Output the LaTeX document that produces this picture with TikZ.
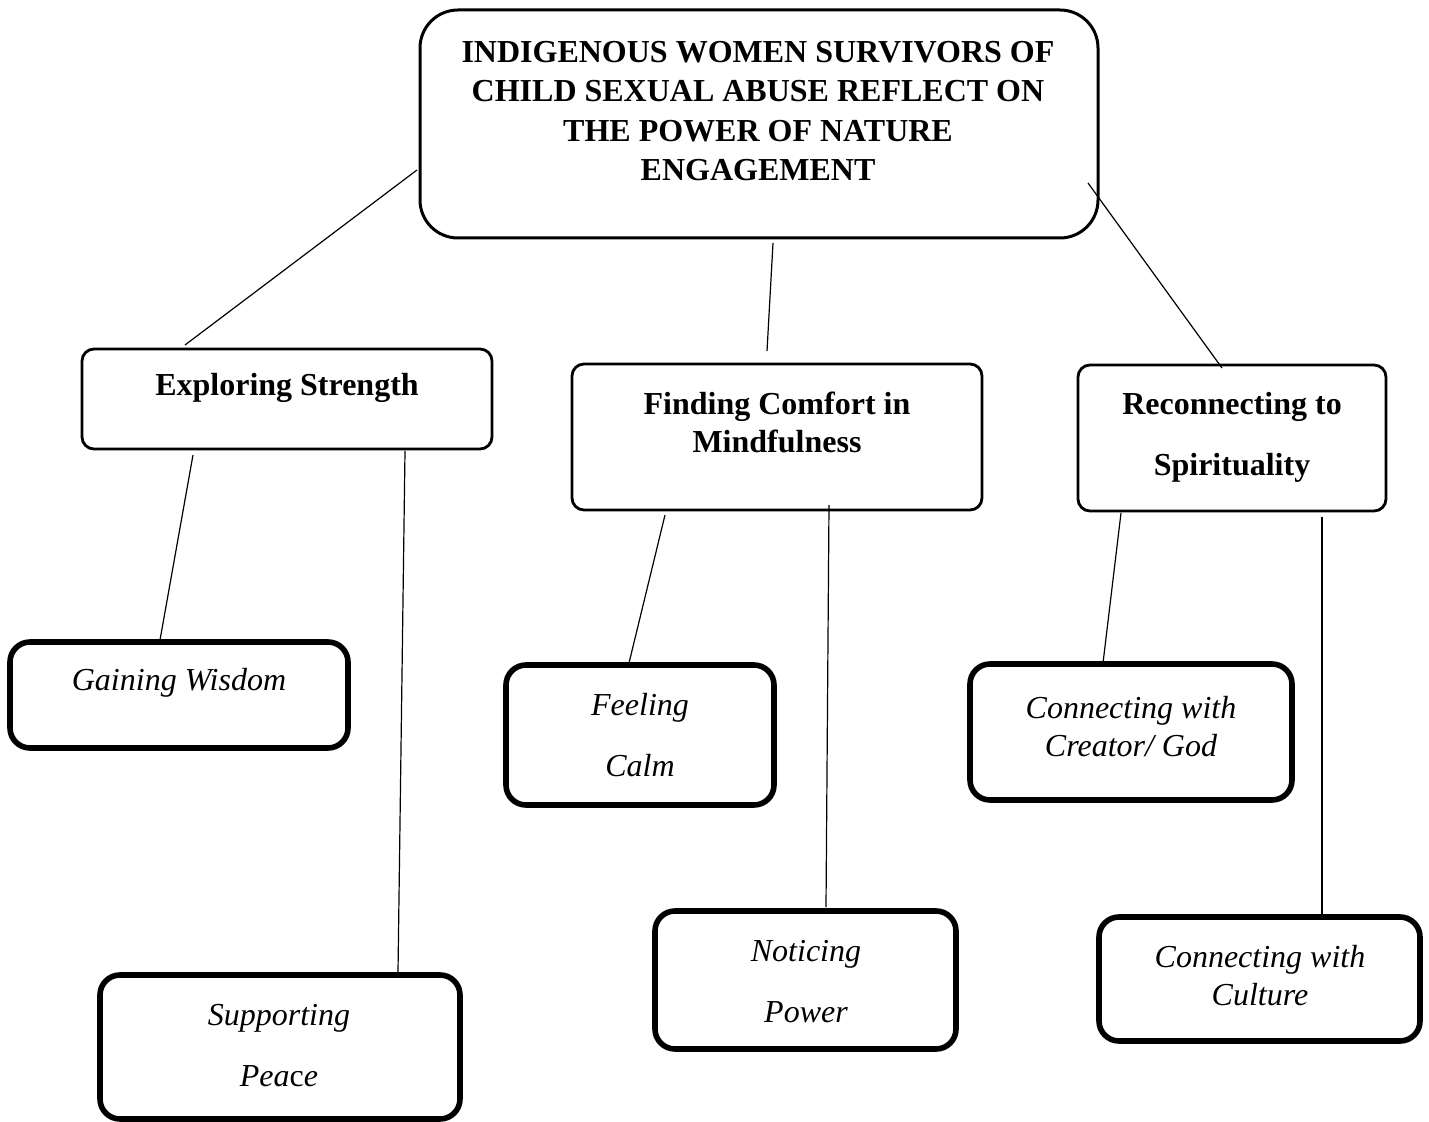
\documentclass[tikz,border=0pt]{standalone}
\usepackage{fontspec}
\setmainfont{Liberation Serif}
\usetikzlibrary{positioning}

\tikzset{
  thinbox/.style={draw=black, line width=1.4pt, rounded corners=6pt, inner sep=0pt},
  thickbox/.style={draw=black, line width=2.8pt, rounded corners=10pt, inner sep=0pt},
  headtext/.style={font=\fontsize{16}{19}\selectfont\bfseries, align=center, inner sep=0pt},
  themetext/.style={font=\fontsize{16}{19}\selectfont\itshape, align=center, inner sep=0pt},
  link/.style={draw=black, line width=0.6pt}
}

\begin{document}
\begin{tikzpicture}[x=0.5pt, y=-0.5pt]
            \useasboundingbox (0,0) rectangle (1429,1122);
            \fill[white] (0,0) rectangle (1429,1122);

            % main theme
            \node[draw=black, line width=1.5pt, rounded corners=19pt, minimum width=339pt, minimum height=114pt] (main) at (759,124) {};
            \node[headtext, font=\fontsize{16}{19.7}\selectfont\bfseries] (maintext) at (758,111)
              {INDIGENOUS WOMEN SURVIVORS OF\\CHILD SEXUAL ABUSE REFLECT ON\\THE POWER OF NATURE\\ENGAGEMENT};

            % themes
            \begin{scope}[every node/.style={thinbox}]
                \node[minimum width=205pt, minimum height=50pt] (strength) at (287,399) {};
                \node[minimum width=205pt, minimum height=73pt] (comfort) at (777,437) {};
                \node[minimum width=154pt, minimum height=73pt] (spirit) at (1232,438) {};
            \end{scope}
            \node[headtext] (strengthtext) at (287,388) {Exploring Strength};
            \node[headtext] (comforttext) at (777,422) {Finding Comfort in\\Mindfulness};
            \node[headtext] (spirittext) at (1232,437) {Reconnecting to\\[11.5pt]Spirituality};

            % sub-themes
            \begin{scope}[every node/.style={thickbox}]
                \node[minimum width=169pt, minimum height=53pt] (wisdom) at (179,695) {};
                \node[minimum width=180pt, minimum height=72pt] (peace) at (280,1047) {};
                \node[minimum width=134pt, minimum height=70pt] (calm) at (640,735) {};
                \node[minimum width=150.5pt, minimum height=69pt] (power) at (805.5,980) {};
                \node[minimum width=161pt, minimum height=68pt] (creator) at (1131,732) {};
                \node[minimum width=160.5pt, minimum height=62pt] (culture) at (1259.5,979) {};
            \end{scope}
            \node[themetext] (wisdomtext) at (179,683) {Gaining Wisdom};
            \node[themetext] (peacetext) at (279,1045.5) {Supporting\\[11.5pt]Pea\textup{c}e};
            \node[themetext] (calmtext) at (640,735.5) {Feeling\\[11.5pt]Calm};
            \node[themetext] (powertext) at (806,981.5) {Noticing\\[11.5pt]Power};
            \node[themetext] (creatortext) at (1131,727) {Connecting with\\Creator/ God};
            \node[themetext] (culturetext) at (1260,975.5) {Connecting with\\Culture};

            % loose ends of the connectors
            \coordinate (main-s) at (417,170);
            \coordinate (main-c) at (773,243);
            \coordinate (main-r) at (1088,183);
            \coordinate (s-main) at (185,345);
            \coordinate (c-main) at (767,351);
            \coordinate (r-main) at (1222,368);
            \coordinate (s-wisdom) at (193,455);
            \coordinate (s-peace) at (405,451);
            \coordinate (c-calm) at (665,515);
            \coordinate (c-power) at (829,505);
            \coordinate (r-creator) at (1121,513);
            \coordinate (r-culture) at (1322,517);
            \coordinate (wisdom-s) at (160,640);
            \coordinate (peace-s) at (398,972);
            \coordinate (calm-c) at (629,663);
            \coordinate (power-c) at (826,907);
            \coordinate (creator-r) at (1103,663);
            \coordinate (culture-r) at (1322,915);

            \begin{scope}[every path/.style={link}]
                \draw (main-s) -- (s-main);
                \draw (main-c) -- (c-main);
                \draw (main-r) -- (r-main);
                \draw (s-wisdom) -- (wisdom-s);
                \draw (s-peace) -- (peace-s);
                \draw (c-calm) -- (calm-c);
                \draw (c-power) -- (power-c);
                \draw (r-creator) -- (creator-r);
                \draw (r-culture) -- (culture-r);
            \end{scope}

\end{tikzpicture}
\end{document}
